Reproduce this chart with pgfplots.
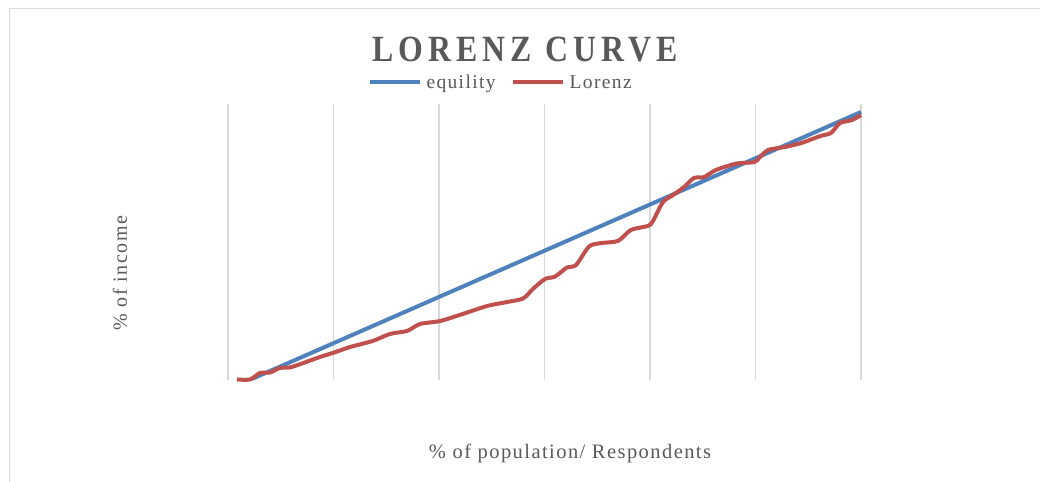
\documentclass[border=0pt]{standalone}
\usepackage{pgfplots}
\pgfplotsset{compat=1.18}
\usepackage{fontspec}
\setmainfont{Liberation Serif}
\definecolor{eqblue}{HTML}{4F81BD}
\definecolor{lzred}{HTML}{C0504D}
\definecolor{txtgray}{HTML}{595959}
\definecolor{gridgray}{HTML}{D9D9D9}
\begin{document}
\begin{tikzpicture}
\useasboundingbox (0,0) rectangle (1040bp,482bp);
\fill[white] (0,0) rectangle (1040bp,482bp);
\draw[gridgray, line width=1.5bp] (9.5bp,0) -- (9.5bp,473.5bp) -- (1040bp,473.5bp);
\begin{axis}[
  scale only axis, width=633bp, height=276bp,
  at={(228bp,102bp)}, anchor=south west,
  xmin=0, xmax=6, ymin=0, ymax=103,
  xtick={0,...,6}, ytick=\empty, xticklabels={},
  xmajorgrids, grid style={gridgray, line width=1.5bp},
  axis line style={draw=none}, major tick length=0pt,
  clip=false,
  legend columns=-1,
  legend style={at={(axis description cs:0.433,1.078)}, anchor=center, draw=none, fill=none,
    font=\fontsize{19.5bp}{22bp}\selectfont\addfontfeature{LetterSpace=7}, text=txtgray,
    /tikz/every even column/.append style={column sep=10bp}, inner sep=0pt,
    nodes={inner xsep=5bp}},
  legend image code/.code={\draw[#1] (0bp,0bp) -- (50bp,0bp);},
]
\addplot[eqblue, line width=4bp] coordinates {(0.227,0.4) (6,100)};
\addlegendentry{equility}
\addplot[lzred, line width=4bp, smooth, tension=0.45] coordinates {
(0.085,0.2) (0.209,0.2) (0.303,2.6) (0.398,2.8) (0.493,4.5) (0.588,4.7)
(0.711,6.3) (0.872,8.6) (0.995,10.1) (1.156,12.3) (1.374,14.6) (1.536,17.2)
(1.697,18.3) (1.820,20.9) (2.009,22.0) (2.199,24.3) (2.455,27.6) (2.645,29.1)
(2.796,30.4) (2.891,34.0) (3.005,37.7) (3.100,38.6) (3.213,42.0) (3.299,42.9)
(3.422,49.8) (3.536,51.1) (3.697,51.9) (3.820,56.0) (3.981,57.5) (4.028,59.3)
(4.123,66.4) (4.218,69.0) (4.322,72.0) (4.417,75.4) (4.512,75.7) (4.626,78.4)
(4.825,80.8) (4.986,81.3) (5.033,82.8) (5.118,85.8) (5.270,86.9) (5.431,88.4)
(5.611,91.0) (5.716,92.2) (5.801,95.9) (5.915,97.0) (6.0,98.9)};
\addlegendentry{Lorenz}
\end{axis}
\node[text=txtgray, font=\fontsize{37bp}{40bp}\selectfont\bfseries, anchor=base, inner sep=0pt, text depth=0pt] at (525bp,420bp)
  {\scalebox{0.86}[1]{\addfontfeature{LetterSpace=16}LORENZ CURVE}};
\node[text=txtgray, rotate=90, font=\fontsize{20bp}{24bp}\selectfont\addfontfeature{LetterSpace=8}] at (120bp,209bp) {\% of income};
\node[text=txtgray, font=\fontsize{20.5bp}{24bp}\selectfont\addfontfeature{LetterSpace=7}] at (570bp,29bp) {\% of population/ Respondents};
\end{tikzpicture}
\end{document}
